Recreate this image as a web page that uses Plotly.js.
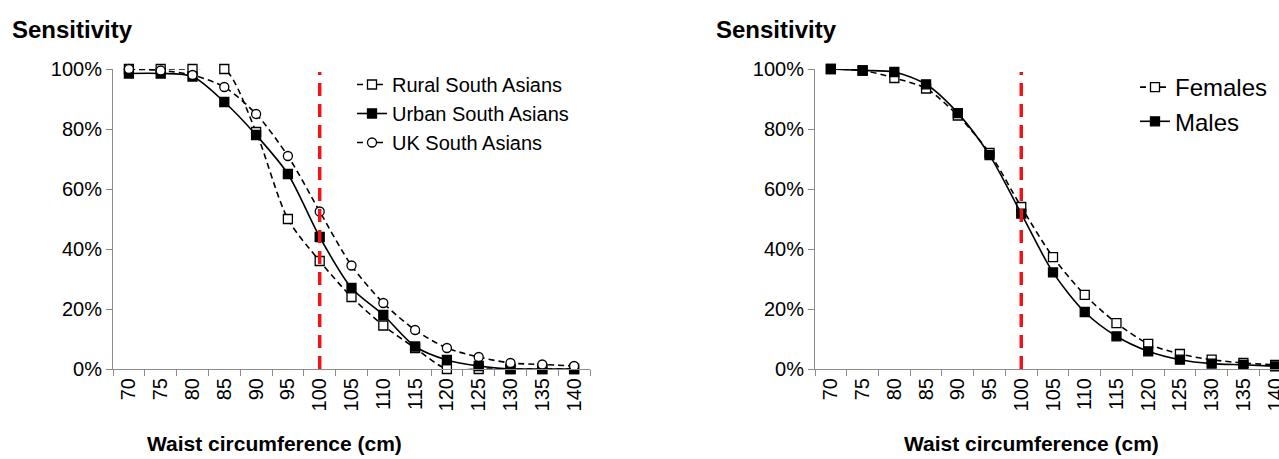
<!DOCTYPE html>
<html>
<head>
<meta charset="utf-8">
<script src="https://cdn.plot.ly/plotly-3.0.1.min.js"></script>
<style>
html, body { margin: 0; padding: 0; overflow: hidden; background: #fff; }
#chart { width: 1279px; height: 459px; }
</style>
</head>
<body>
<div id="chart"></div>
<script>
// ---- data ----
var waistCategories = ['70','75','80','85','90','95','100','105','110','115','120','125','130','135','140'];
var ruralSouthAsians = [1.00, 1.00, 1.00, 1.00, 0.79, 0.50, 0.36, 0.24, 0.145, 0.07, 0.00, 0.00, 0.00, 0.00, 0.00];
var urbanSouthAsians = [0.985, 0.985, 0.975, 0.89, 0.78, 0.65, 0.44, 0.27, 0.18, 0.075, 0.03, 0.01, 0.00, 0.00, 0.00];
var ukSouthAsians    = [1.00, 0.995, 0.98, 0.94, 0.85, 0.71, 0.525, 0.345, 0.22, 0.13, 0.07, 0.04, 0.02, 0.015, 0.01];
var females = [1.00, 0.995, 0.97, 0.935, 0.845, 0.72, 0.54, 0.373, 0.247, 0.153, 0.084, 0.05, 0.031, 0.02, 0.014];
var males   = [1.00, 0.995, 0.99, 0.949, 0.853, 0.713, 0.518, 0.322, 0.19, 0.109, 0.059, 0.031, 0.018, 0.014, 0.009];
var cutoffCategory = '100';
var cutoffLineY = [0, 0.99];
var yTickValues = [0, 0.2, 0.4, 0.6, 0.8, 1.0];
var yTickLabels = ['0%', '20%', '40%', '60%', '80%', '100%'];

// ---- styling helpers ----
var W = 1279, H = 459;
var FONT = 'Liberation Sans, Arial, sans-serif';
function px(x) { return x / W; }
function py(y) { return 1 - y / H; }

function series(name, y, xa, ya, legendId, dashed, symbol, filled) {
  return {
    type: 'scatter', mode: 'lines+markers', name: name,
    x: waistCategories, y: y, xaxis: xa, yaxis: ya, legend: legendId,
    line: { color: '#000', width: 1.6, dash: dashed ? '6px,4px' : 'solid', shape: 'spline', smoothing: 0.8 },
    marker: { symbol: symbol, size: 9, color: filled ? '#000' : '#fff', line: { color: '#000', width: 1.3 } },
    cliponaxis: false, hoverinfo: 'skip'
  };
}
function cutoff(xa, ya) {
  return {
    type: 'scatter', mode: 'lines', showlegend: false,
    x: [cutoffCategory, cutoffCategory], y: cutoffLineY, xaxis: xa, yaxis: ya,
    line: { color: '#f01414', width: 3.5, dash: '13px,8px' }, hoverinfo: 'skip', cliponaxis: false
  };
}

var traces = [
  series('Rural South Asians', ruralSouthAsians, 'x', 'y', 'legend', true, 'square', false),
  series('Urban South Asians', urbanSouthAsians, 'x', 'y', 'legend', false, 'square', true),
  series('UK South Asians', ukSouthAsians, 'x', 'y', 'legend', true, 'circle', false),
  cutoff('x', 'y'),
  series('Females', females, 'x2', 'y2', 'legend2', true, 'square', false),
  series('Males', males, 'x2', 'y2', 'legend2', false, 'square', true),
  cutoff('x2', 'y2')
];

function xAxis(domain, range, anchor) {
  return {
    type: 'category', categoryorder: 'array', categoryarray: waistCategories,
    domain: domain, range: range, anchor: anchor,
    showgrid: false, zeroline: false, showline: true, linecolor: '#8c8c8c', linewidth: 1,
    ticks: 'outside', tickson: 'boundaries', ticklen: 6, tickcolor: '#8c8c8c', tickwidth: 1,
    tickangle: -90, tickfont: { family: FONT, size: 20, color: '#000' }, automargin: false,
    fixedrange: true
  };
}
function yAxis(anchor) {
  return {
    domain: [py(369), py(69)], range: [0, 1], anchor: anchor,
    tickvals: yTickValues, ticktext: yTickLabels,
    showgrid: false, zeroline: false, showline: true, linecolor: '#8c8c8c', linewidth: 1,
    ticks: 'outside', ticklen: 6, tickcolor: '#8c8c8c', tickwidth: 1,
    tickfont: { family: FONT, size: 20, color: '#000' }, automargin: false, fixedrange: true
  };
}

var layout = {
  width: W, height: H, autosize: false,
  margin: { l: 0, r: 0, t: 0, b: 0 },
  paper_bgcolor: '#fff', plot_bgcolor: '#fff',
  font: { family: FONT, color: '#000' },
  xaxis: xAxis([px(113), px(590)], [-0.5, 14.5], 'y'),
  yaxis: yAxis('x'),
  xaxis2: xAxis([px(815), 1], [-0.5, 14.5 - 12 / 31.75], 'y2'),
  yaxis2: yAxis('x2'),
  legend: {
    x: px(352), y: py(65), xanchor: 'left', yanchor: 'top',
    font: { family: FONT, size: 20, color: '#000' }, bgcolor: 'rgba(0,0,0,0)',
    itemwidth: 30, tracegroupgap: 0
  },
  legend2: {
    x: px(1135), y: py(65), xanchor: 'left', yanchor: 'top',
    font: { family: FONT, size: 24, color: '#000' }, bgcolor: 'rgba(0,0,0,0)',
    itemwidth: 30, tracegroupgap: 0
  },
  annotations: [
    { text: '<b>Sensitivity</b>', xref: 'paper', yref: 'paper', x: px(10), y: py(30), xanchor: 'left', yanchor: 'middle', showarrow: false, font: { family: FONT, size: 24, color: '#000' } },
    { text: '<b>Sensitivity</b>', xref: 'paper', yref: 'paper', x: px(714), y: py(30), xanchor: 'left', yanchor: 'middle', showarrow: false, font: { family: FONT, size: 24, color: '#000' } },
    { text: '<b>Waist circumference (cm)</b>', xref: 'paper', yref: 'paper', x: px(274), y: py(443), xanchor: 'center', yanchor: 'middle', showarrow: false, font: { family: FONT, size: 21, color: '#000' } },
    { text: '<b>Waist circumference (cm)</b>', xref: 'paper', yref: 'paper', x: px(1031), y: py(443), xanchor: 'center', yanchor: 'middle', showarrow: false, font: { family: FONT, size: 21, color: '#000' } }
  ]
};

Plotly.newPlot('chart', traces, layout, { staticPlot: true, displayModeBar: false });
</script>
</body>
</html>
